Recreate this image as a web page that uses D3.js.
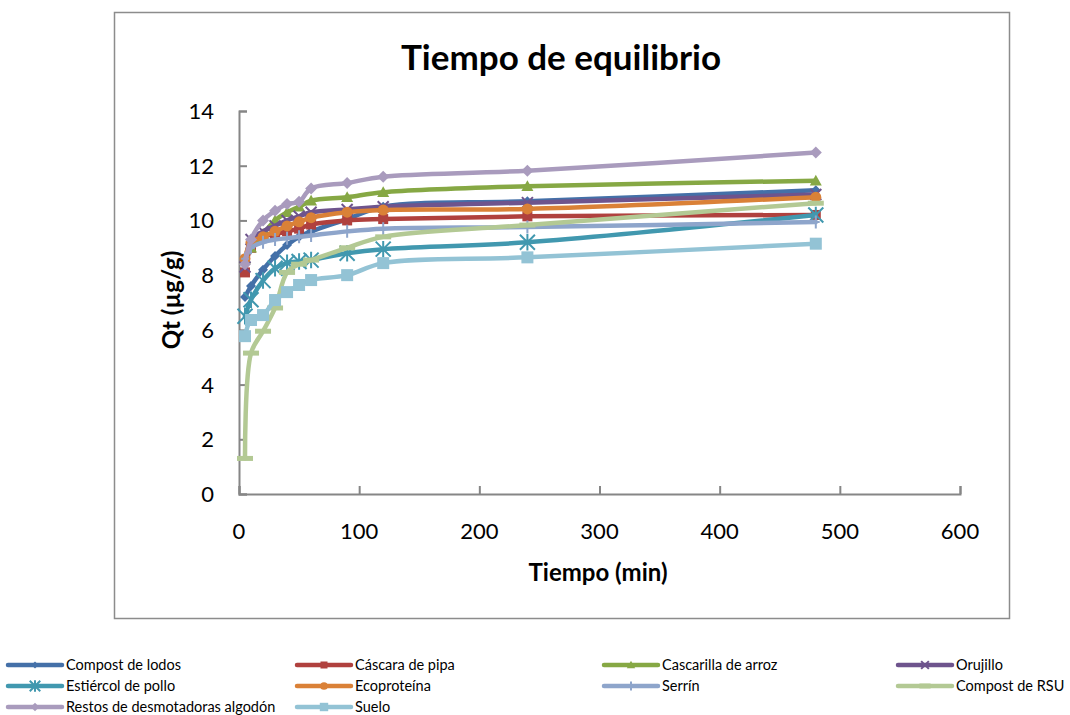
<!DOCTYPE html>
<html>
<head>
<meta charset="utf-8">
<script src="https://cdn.jsdelivr.net/npm/d3@7"></script>
<style>
  html, body { margin: 0; padding: 0; background: #fff; }
  svg { display: block; }
  text { font-family: Lato, "Open Sans", sans-serif; fill: #000; }
</style>
</head>
<body>
<svg id="chart" width="1070" height="715"></svg>
<script>
// Sampling times (min)
const times = [5, 10, 20, 30, 40, 50, 60, 90, 120, 240, 480];

// Adsorbed amount Qt (µg/g) per material
const compostLodos    = [7.2, 7.6, 8.2, 8.7, 9.1, 9.4, 9.6, 10.05, 10.5, 10.7, 11.1];
const cascaraPipa     = [8.1, 9.0, 9.4, 9.5, 9.6, 9.7, 9.85, 10.0, 10.05, 10.15, 10.2];
const cascarillaArroz = [8.6, 9.0, 9.5, 10.0, 10.3, 10.5, 10.72, 10.85, 11.03, 11.25, 11.45];
const orujillo        = [8.3, 9.3, 9.6, 9.8, 10.0, 10.15, 10.3, 10.4, 10.5, 10.65, 10.95];
const estiercolPollo  = [6.5, 7.1, 7.8, 8.25, 8.45, 8.5, 8.55, 8.8, 8.95, 9.2, 10.2];
const ecoproteina     = [8.6, 9.2, 9.4, 9.6, 9.8, 9.95, 10.1, 10.3, 10.38, 10.42, 10.85];
const serrin          = [8.6, 9.0, 9.2, 9.3, 9.35, 9.4, 9.45, 9.6, 9.7, 9.76, 9.94];
const compostRSU      = [1.3, 5.15, 5.95, 6.8, 8.1, 8.4, 8.55, 9.0, 9.4, 9.83, 10.63];
const restosAlgodon   = [8.4, 9.3, 10.0, 10.35, 10.6, 10.68, 11.17, 11.37, 11.6, 11.82, 12.48];
const suelo           = [5.77, 6.36, 6.54, 7.09, 7.38, 7.64, 7.82, 8.0, 8.44, 8.65, 9.15];

const seriesNames = ["Compost de lodos", "Cáscara de pipa", "Cascarilla de arroz", "Orujillo",
                     "Estiércol de pollo", "Ecoproteína", "Serrín", "Compost de RSU",
                     "Restos de desmotadoras algodón", "Suelo"];
const seriesValues = [compostLodos, cascaraPipa, cascarillaArroz, orujillo, estiercolPollo,
                      ecoproteina, serrin, compostRSU, restosAlgodon, suelo];

const xTicks = [0, 100, 200, 300, 400, 500, 600];
const yTicks = [0, 2, 4, 6, 8, 10, 12, 14];

const chartTitle = "Tiempo de equilibrio";
const xTitle = "Tiempo (min)";
const yTitle = "Qt (µg/g)";

// Styling per series: colour and marker kind
const styles = [
  { color: "#4470A8", marker: "diamond", size: 10 },
  { color: "#B0413E", marker: "square", size: 10 },
  { color: "#86A844", marker: "triangle", size: 12 },
  { color: "#6E548D", marker: "x", size: 11 },
  { color: "#4198AF", marker: "star", size: 15 },
  { color: "#DA8137", marker: "circle", size: 11 },
  { color: "#8EA5CB", marker: "plus", size: 13 },
  { color: "#B3C994", marker: "dash", size: 16 },
  { color: "#A99BBD", marker: "diamond", size: 12 },
  { color: "#93C3D5", marker: "square", size: 12 }
];

const svg = d3.select("#chart");

// Outer chart frame
svg.append("rect")
  .attr("x", 114.5).attr("y", 12.5)
  .attr("width", 895).attr("height", 606)
  .attr("fill", "#fff").attr("stroke", "#8c8c8c").attr("stroke-width", 1.5);

const x = d3.scaleLinear().domain([0, 600]).range([239, 960]);
const y = d3.scaleLinear().domain([0, 14]).range([494, 111]);

// Axes with inward ticks
const axisColor = "#868686";
const xAxis = svg.append("g").attr("transform", `translate(0,${y(0)})`)
  .call(d3.axisTop(x).tickValues(xTicks).tickSize(8).tickFormat(""));
const yAxis = svg.append("g").attr("transform", `translate(${x(0)},0)`)
  .call(d3.axisRight(y).tickValues(yTicks).tickSize(8).tickFormat(""));
[xAxis, yAxis].forEach(g => {
  g.select(".domain").attr("stroke", axisColor).attr("stroke-width", 2);
  g.selectAll(".tick line").attr("stroke", axisColor).attr("stroke-width", 2);
});

// Tick labels
svg.append("g").selectAll("text").data(xTicks).join("text")
  .attr("x", d => x(d)).attr("y", 539)
  .attr("text-anchor", "middle").attr("font-size", 22)
  .text(d => d);
svg.append("g").selectAll("text").data(yTicks).join("text")
  .attr("x", 214).attr("y", d => y(d) + 8)
  .attr("text-anchor", "end").attr("font-size", 22)
  .text(d => d);

// Titles
svg.append("text").attr("x", 561).attr("y", 70)
  .attr("text-anchor", "middle").attr("font-size", 35).attr("font-weight", "bold")
  .text(chartTitle);
svg.append("text").attr("x", 598).attr("y", 581)
  .attr("text-anchor", "middle").attr("font-size", 24).attr("font-weight", "bold")
  .text(xTitle);
svg.append("text").attr("transform", "translate(180,300) rotate(-90)")
  .attr("text-anchor", "middle").attr("font-size", 24).attr("font-weight", "bold")
  .text(yTitle);

// Marker drawing
function drawMarker(g, kind, cx, cy, s, color) {
  const h = s / 2;
  switch (kind) {
    case "diamond":
      g.append("path").attr("d", `M${cx},${cy - h}L${cx + h},${cy}L${cx},${cy + h}L${cx - h},${cy}Z`)
        .attr("fill", color);
      break;
    case "square":
      g.append("rect").attr("x", cx - h).attr("y", cy - h).attr("width", s).attr("height", s)
        .attr("fill", color);
      break;
    case "triangle":
      g.append("path").attr("d", `M${cx},${cy - h}L${cx + h},${cy + h * 0.8}L${cx - h},${cy + h * 0.8}Z`)
        .attr("fill", color);
      break;
    case "circle":
      g.append("circle").attr("cx", cx).attr("cy", cy).attr("r", h).attr("fill", color);
      break;
    case "x":
      g.append("path").attr("d", `M${cx - h},${cy - h}L${cx + h},${cy + h}M${cx + h},${cy - h}L${cx - h},${cy + h}`)
        .attr("stroke", color).attr("stroke-width", 2);
      break;
    case "star":
      g.append("path").attr("d", `M${cx - h},${cy - h}L${cx + h},${cy + h}M${cx + h},${cy - h}L${cx - h},${cy + h}M${cx},${cy - h * 1.1}L${cx},${cy + h * 1.1}`)
        .attr("stroke", color).attr("stroke-width", 2);
      break;
    case "plus":
      g.append("path").attr("d", `M${cx},${cy - h}L${cx},${cy + h}M${cx - h * 0.6},${cy}L${cx + h * 0.6},${cy}`)
        .attr("stroke", color).attr("stroke-width", 2);
      break;
    case "dash":
      g.append("rect").attr("x", cx - h).attr("y", cy - 2.5).attr("width", s).attr("height", 5)
        .attr("fill", color);
      break;
  }
}

const line = d3.line()
  .x(d => x(d[0])).y(d => y(d[1]))
  .curve(d3.curveCatmullRom.alpha(0.5));

const plot = svg.append("g");
seriesValues.forEach((vals, i) => {
  const st = styles[i];
  const pts = times.map((t, j) => [t, vals[j]]);
  const g = plot.append("g");
  g.append("path").datum(pts).attr("d", line)
    .attr("fill", "none").attr("stroke", st.color).attr("stroke-width", 4.5)
    .attr("stroke-linejoin", "round").attr("stroke-linecap", "round");
  pts.forEach(p => drawMarker(g, st.marker, x(p[0]), y(p[1]), st.size, st.color));
});

// Legend: four columns, three rows
const legendCols = [8, 297, 604, 898];
const legendRows = [665, 686, 707];
const legend = svg.append("g");
seriesNames.forEach((name, i) => {
  const lx = legendCols[i % 4];
  const ly = legendRows[Math.floor(i / 4)];
  const st = styles[i];
  const g = legend.append("g");
  g.append("line").attr("x1", lx).attr("x2", lx + 54).attr("y1", ly).attr("y2", ly)
    .attr("stroke", st.color).attr("stroke-width", 4.5).attr("stroke-linecap", "round");
  drawMarker(g, st.marker, lx + 27, ly, st.size * 0.7, st.color);
  g.append("text").attr("x", lx + 58).attr("y", ly + 5)
    .attr("font-size", 14.5).text(name);
});
</script>
</body>
</html>
